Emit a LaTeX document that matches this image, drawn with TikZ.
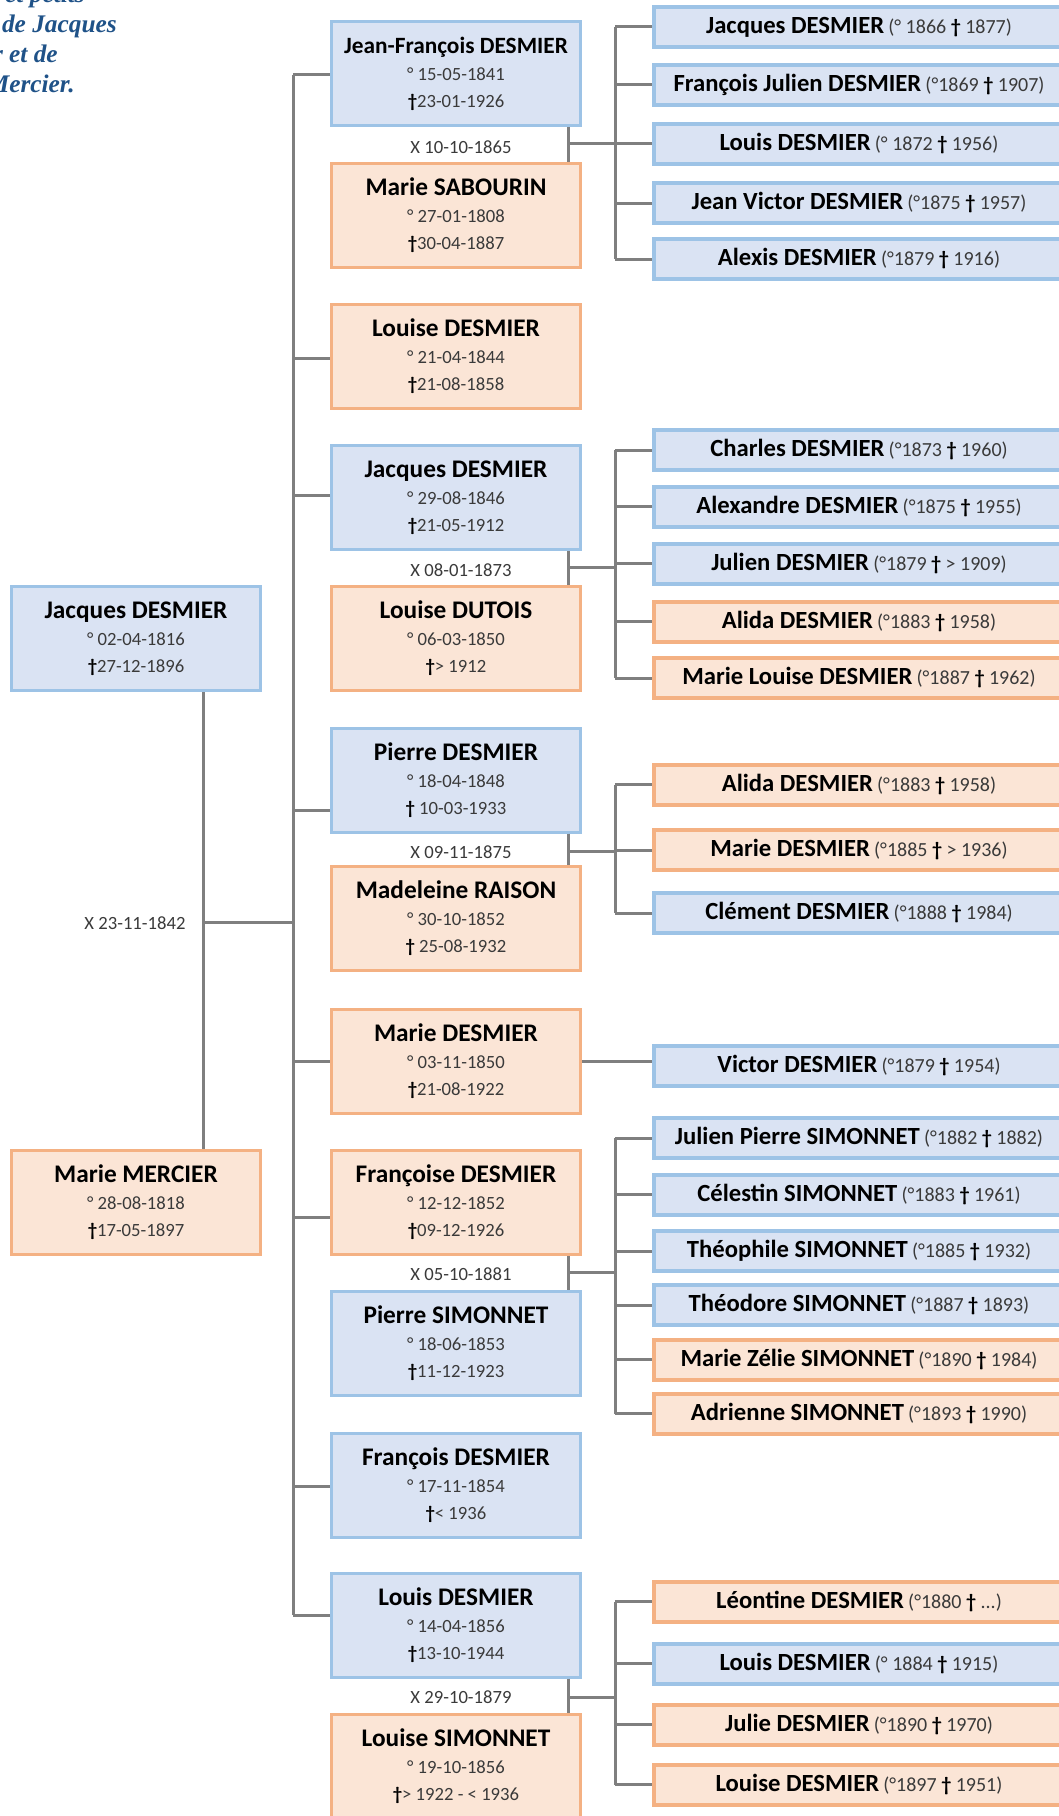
\documentclass[tikz,border=0pt]{standalone}
\usepackage{fontspec}
\setmainfont{Carlito}
\newfontfamily\titlefont{Liberation Serif}
\usepackage{tikz}

\definecolor{boyfill}{HTML}{DAE3F3}
\definecolor{boyline}{HTML}{9DC3E6}
\definecolor{girlfill}{HTML}{FBE5D6}
\definecolor{girlline}{HTML}{F4B183}
\definecolor{linkgray}{HTML}{7F7F7F}
\definecolor{dategray}{HTML}{3A3A3A}
\definecolor{titleblue}{HTML}{1F5288}

\newcommand{\datefont}{\fontsize{14}{20.25}\selectfont}
\newcommand{\headfont}{\titlefont\bfseries\itshape\fontsize{19}{22}\selectfont}
\newcommand{\bigname}[2][19]{{\fontsize{#1}{20.25}\selectfont\bfseries\color{black}#2}}
\newcommand{\kidline}[2]{{\fontsize{18.5}{20}\selectfont\bfseries\color{black}#1} {\fontsize{15}{20}\selectfont(#2)}}
\newcommand{\dg}{{\bfseries\color{black}†}}
\newcommand{\unk}{...}

\begin{document}
\begin{tikzpicture}[x=0.75pt,y=-0.75pt,
	boy/.style={draw=boyline,fill=boyfill,line width=2.25pt,minimum width=186.75pt,minimum height=78pt,inner sep=0pt,align=center,font=\datefont,text=dategray},
	girl/.style={boy,draw=girlline,fill=girlfill},
	kid/.style={minimum width=307.5pt,minimum height=30pt,line width=3pt},
	link/.style={draw=linkgray,line width=2.25pt},
	wed/.style={font=\datefont,text=dategray,inner sep=0pt},
	heading/.style={font=\headfont,text=titleblue,inner sep=0pt,anchor=base east}]
	\useasboundingbox (0,0) rectangle (1059,1816);
	\fill[white] (0,0) rectangle (1059,1816);

	\node[heading] (head1) at (85,3) {et petits};
	\node[heading] (head2) at (117,33) {de Jacques};
	\node[heading] (head3) at (58,63) {r et de};
	\node[heading] (head4) at (75,93) {Mercier.};

	\node[boy] (jacquesp) at (136,638.5) {\bigname{Jacques DESMIER}\\° 02-04-1816\\\dg27-12-1896};
	\node[girl] (mercier) at (136,1202.5) {\bigname{Marie MERCIER}\\° 28-08-1818\\\dg17-05-1897};
	\node[wed] (rootwed) at (135,923) {X 23-11-1842};

	\node[boy] (jf) at (456,74) {\bigname[17.5]{Jean-François DESMIER}\\° 15-05-1841\\\dg23-01-1926};
	\node[girl] (sabourin) at (456,215.5) {\bigname{Marie SABOURIN}\\° 27-01-1808\\\dg30-04-1887};
	\node[girl] (louise) at (456,356.5) {\bigname{Louise DESMIER}\\° 21-04-1844\\\dg21-08-1858};
	\node[boy] (jacques) at (456,497.5) {\bigname{Jacques DESMIER}\\° 29-08-1846\\\dg21-05-1912};
	\node[girl] (dutois) at (456,638.5) {\bigname{Louise DUTOIS}\\° 06-03-1850\\\dg> 1912};
	\node[boy] (pierre) at (456,780) {\bigname{Pierre DESMIER}\\° 18-04-1848\\\dg\ 10-03-1933};
	\node[girl] (raison) at (456,918.5) {\bigname{Madeleine RAISON}\\° 30-10-1852\\\dg\ 25-08-1932};
	\node[girl] (marie) at (456,1061.5) {\bigname{Marie DESMIER}\\° 03-11-1850\\\dg21-08-1922};
	\node[girl] (francoise) at (456,1202.5) {\bigname{Françoise DESMIER}\\° 12-12-1852\\\dg09-12-1926};
	\node[boy] (psimonnet) at (456,1343.5) {\bigname{Pierre SIMONNET}\\° 18-06-1853\\\dg11-12-1923};
	\node[boy] (francois) at (456,1485.5) {\bigname{François DESMIER}\\° 17-11-1854\\\dg< 1936};
	\node[boy] (louis) at (456,1625) {\bigname{Louis DESMIER}\\° 14-04-1856\\\dg13-10-1944};
	\node[girl] (lsimonnet) at (456,1766.5) {\bigname{Louise SIMONNET}\\° 19-10-1856\\\dg> 1922 - < 1936};

	\node[wed] (jfwed) at (461,147) {X 10-10-1865};
	\node[wed] (jawed) at (461,570) {X 08-01-1873};
	\node[wed] (piwed) at (461,852) {X 09-11-1875};
	\node[wed] (frwed) at (461,1274) {X 05-10-1881};
	\node[wed] (lowed) at (461,1697) {X 29-10-1879};

	\foreach \ky/\ks/\kn/\kd [count=\k] in {27/boy/Jacques DESMIER/° 1866 \dg\ 1877,85/boy/François Julien DESMIER/°1869 \dg\ 1907,144/boy/Louis DESMIER/° 1872 \dg\ 1956,203/boy/Jean Victor DESMIER/°1875 \dg\ 1957,259/boy/Alexis DESMIER/°1879 \dg\ 1916}
		\node[\ks,kid] (jfk\k) at (859,\ky) {\kidline{\kn}{\kd}};
	\foreach \ky/\ks/\kn/\kd [count=\k] in {450/boy/Charles DESMIER/°1873 \dg\ 1960,506.5/boy/Alexandre DESMIER/°1875 \dg\ 1955,563.5/boy/Julien DESMIER/°1879 \dg\ > 1909,621.5/girl/Alida DESMIER/°1883 \dg\ 1958,678/girl/Marie Louise DESMIER/°1887 \dg\ 1962}
		\node[\ks,kid] (jak\k) at (859,\ky) {\kidline{\kn}{\kd}};
	\foreach \ky/\ks/\kn/\kd [count=\k] in {784.5/girl/Alida DESMIER/°1883 \dg\ 1958,850/girl/Marie DESMIER/°1885 \dg\ > 1936,913/boy/Clément DESMIER/°1888 \dg\ 1984}
		\node[\ks,kid] (pik\k) at (859,\ky) {\kidline{\kn}{\kd}};
	\node[boy,kid] (victor) at (859,1066) {\kidline{Victor DESMIER}{°1879 \dg\ 1954}};
	\foreach \ky/\ks/\kn/\kd [count=\k] in {1138/boy/Julien Pierre SIMONNET/°1882 \dg\ 1882,1194.5/boy/Célestin SIMONNET/°1883 \dg\ 1961,1251/boy/Théophile SIMONNET/°1885 \dg\ 1932,1305/boy/Théodore SIMONNET/°1887 \dg\ 1893,1359.5/girl/Marie Zélie SIMONNET/°1890 \dg\ 1984,1413.5/girl/Adrienne SIMONNET/°1893 \dg\ 1990}
		\node[\ks,kid] (frk\k) at (859,\ky) {\kidline{\kn}{\kd}};
	\foreach \ky/\ks/\kn/\kd [count=\k] in {1601.5/girl/Léontine DESMIER/°1880 \dg\ \unk,1663.5/boy/Louis DESMIER/° 1884 \dg\ 1915,1724.5/girl/Julie DESMIER/°1890 \dg\ 1970,1784.5/girl/Louise DESMIER/°1897 \dg\ 1951}
		\node[\ks,kid] (lok\k) at (859,\ky) {\kidline{\kn}{\kd}};

	\coordinate (rootx) at (203,922);
	\foreach \p/\y [count=\i] in {jf/75,louise/358,jacques/495,pierre/810,marie/1061,francoise/1217,francois/1486,louis/1615}{
		\coordinate (tr\i) at (293,\y);
		\draw[link] (tr\i) -- (tr\i -| \p.west);
	}
	\draw[link] (tr1) -- (tr8);
	\draw[link] (jacquesp.south -| rootx) -- (mercier.north -| rootx);
	\draw[link] (rootx) -- (rootx -| tr1);

	\foreach \hu/\wi/\my/\kk/\n in {jf/sabourin/144/jfk/5,jacques/dutois/567/jak/5,pierre/raison/851/pik/3,francoise/psimonnet/1272/frk/6,louis/lsimonnet/1697/lok/4}{
		\coordinate (\kk m) at (568,\my);
		\coordinate (\kk b) at (615,\my);
		\draw[link] (\hu.south -| \kk m) -- (\wi.north -| \kk m);
		\draw[link] (\kk m) -- (\kk b);
		\draw[link] (\kk b |- \kk1.west) -- (\kk b |- \kk\n.west);
		\foreach \k in {1,...,\n}
			\draw[link] (\kk b |- \kk\k.west) -- (\kk\k.west);
	}
	\draw[link] (marie.east) -- (marie.east -| victor.west);
\end{tikzpicture}
\end{document}
